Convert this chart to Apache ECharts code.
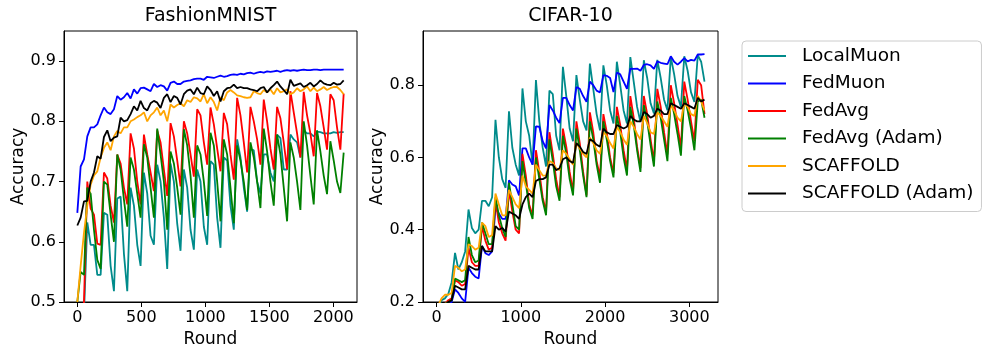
<!DOCTYPE html>
<html>
<head>
<meta charset="utf-8">
<script src="https://cdn.jsdelivr.net/npm/echarts@6.0.0/dist/echarts.min.js"></script>
<style>
html, body { margin: 0; padding: 0; background: #fff; }
#chart { width: 997px; height: 356px; }
</style>
</head>
<body>
<div id="chart"></div>
<script>
var chart = echarts.init(document.getElementById('chart'));

var methodNames = ['LocalMuon', 'FedMuon', 'FedAvg', 'FedAvg (Adam)', 'SCAFFOLD', 'SCAFFOLD (Adam)'];
var lineColors = ['#008b8b', '#0000ff', '#ff0000', '#008000', '#ffa500', '#000000'];

// FashionMNIST (left panel)
var fmnistRounds = [0,26,52,78,104,130,156,182,208,234,260,286,312,338,364,390,416,442,468,494,520,546,572,598,624,650,676,702,728,754,780,806,832,858,884,910,936,962,988,1014,1040,1066,1092,1118,1144,1170,1196,1222,1248,1274,1300,1326,1352,1378,1404,1430,1456,1482,1508,1534,1560,1586,1612,1638,1664,1690,1716,1742,1768,1794,1820,1846,1872,1898,1924,1950,1976,2002,2028,2054,2080];
var fmnistLocalMuon = [0.30,0.40,0.48,0.632,0.595,0.595,0.545,0.545,0.648,0.645, 0.56,0.518,0.672,0.675,0.58,0.518,0.69,0.66,0.595,0.56, 0.715,0.68,0.61,0.595,0.728,0.70,0.64,0.555,0.73,0.70, 0.63,0.585,0.72,0.69,0.62,0.587,0.72,0.70,0.625,0.595, 0.734,0.728,0.64,0.59,0.74,0.735,0.66,0.62,0.77,0.74, 0.69,0.65,0.753,0.752,0.70,0.68,0.745,0.745,0.715,0.70, 0.778,0.772,0.72,0.72,0.778,0.77,0.765,0.74,0.785,0.78, 0.78,0.775,0.783,0.782,0.78,0.78,0.78,0.782,0.781,0.782,0.782];
var fmnistFedMuon = [0.648,0.725,0.737,0.775,0.79,0.79,0.795,0.81,0.823,0.815, 0.812,0.82,0.842,0.836,0.84,0.847,0.838,0.853,0.846,0.855, 0.856,0.853,0.85,0.862,0.857,0.86,0.858,0.851,0.864,0.866, 0.862,0.862,0.866,0.867,0.868,0.87,0.871,0.871,0.869,0.874, 0.873,0.872,0.874,0.876,0.874,0.875,0.877,0.878,0.877,0.879, 0.878,0.880,0.881,0.879,0.881,0.882,0.881,0.883,0.882,0.883, 0.884,0.882,0.884,0.885,0.884,0.885,0.884,0.885,0.886,0.885, 0.885,0.886,0.886,0.885,0.886,0.886,0.886,0.886,0.886,0.886,0.886];
var fmnistFedAvg = [0.30,0.42,0.50,0.70,0.655,0.645,0.597,0.595,0.715,0.705, 0.66,0.632,0.745,0.73,0.69,0.662,0.78,0.755,0.70,0.662, 0.778,0.745,0.715,0.684,0.785,0.765,0.72,0.676,0.797,0.775, 0.735,0.692,0.80,0.78,0.745,0.708,0.82,0.81,0.765,0.728, 0.823,0.795,0.755,0.717,0.814,0.795,0.745,0.703,0.839,0.81, 0.765,0.715,0.824,0.80,0.77,0.728,0.836,0.80,0.755,0.72, 0.824,0.805,0.765,0.72,0.85,0.815,0.78,0.74,0.849,0.81, 0.78,0.742,0.847,0.825,0.79,0.753,0.845,0.835,0.79,0.753,0.846];
var fmnistFedAvgAdam = [0.50,0.55,0.545,0.69,0.68,0.62,0.57,0.555,0.70,0.695, 0.645,0.60,0.745,0.72,0.67,0.625,0.74,0.72,0.68,0.64, 0.762,0.74,0.69,0.64,0.788,0.745,0.70,0.62,0.75,0.73, 0.69,0.645,0.787,0.76,0.71,0.64,0.76,0.745,0.70,0.643, 0.781,0.76,0.70,0.634,0.77,0.745,0.69,0.631,0.76,0.735, 0.70,0.653,0.765,0.74,0.70,0.656,0.788,0.75,0.70,0.66, 0.778,0.745,0.69,0.634,0.765,0.74,0.70,0.653,0.80,0.76, 0.71,0.662,0.785,0.75,0.71,0.679,0.767,0.735,0.70,0.681,0.748];
var fmnistScaffold = [0.50,0.56,0.615,0.66,0.695,0.71,0.717,0.74,0.756,0.765, 0.752,0.775,0.784,0.78,0.79,0.79,0.80,0.803,0.807,0.81, 0.815,0.80,0.81,0.815,0.823,0.81,0.818,0.80,0.828,0.823, 0.827,0.83,0.825,0.835,0.832,0.84,0.838,0.833,0.845,0.83, 0.84,0.832,0.818,0.84,0.835,0.848,0.852,0.848,0.843,0.842, 0.84,0.839,0.84,0.85,0.847,0.845,0.852,0.848,0.853,0.845, 0.855,0.848,0.85,0.853,0.845,0.848,0.855,0.85,0.853,0.858, 0.85,0.856,0.85,0.853,0.857,0.852,0.855,0.857,0.857,0.852,0.845];
var fmnistScaffoldAdam = [0.627,0.64,0.667,0.668,0.70,0.715,0.742,0.738,0.774,0.785, 0.767,0.773,0.775,0.806,0.80,0.802,0.812,0.825,0.818,0.834, 0.822,0.818,0.83,0.834,0.831,0.822,0.839,0.845,0.832,0.842, 0.839,0.828,0.845,0.851,0.853,0.845,0.856,0.847,0.845,0.858, 0.852,0.842,0.85,0.833,0.85,0.855,0.856,0.861,0.855,0.857, 0.855,0.855,0.853,0.852,0.85,0.855,0.857,0.848,0.855,0.86, 0.866,0.858,0.852,0.845,0.869,0.859,0.861,0.863,0.857,0.86, 0.864,0.858,0.862,0.868,0.863,0.861,0.86,0.864,0.861,0.862,0.868];
var fmnistXTicks = [0, 500, 1000, 1500, 2000];
var fmnistYTicks = [0.5, 0.6, 0.7, 0.8, 0.9];

// CIFAR-10 (middle panel)
var cifarRounds = [20,60,100,140,180,220,260,300,340,380,420,460,500,540,580,620,660,700,740,780,820,860,900,940,980,1020,1060,1100,1140,1180,1220,1260,1300,1340,1380,1420,1460,1500,1540,1580,1620,1660,1700,1740,1780,1820,1860,1900,1940,1980,2020,2060,2100,2140,2180,2220,2260,2300,2340,2380,2420,2460,2500,2540,2580,2620,2660,2700,2740,2780,2820,2860,2900,2940,2980,3020,3060,3100,3140,3180];
var cifarLocalMuon = [0.185,0.205,0.21,0.222,0.255,0.336,0.29,0.31,0.34,0.456, 0.405,0.39,0.40,0.48,0.48,0.465,0.49,0.704,0.60,0.54, 0.516,0.728,0.627,0.58,0.55,0.791,0.70,0.66,0.58,0.814, 0.70,0.627,0.575,0.785,0.775,0.66,0.62,0.851,0.77,0.68, 0.645,0.828,0.76,0.70,0.675,0.86,0.79,0.72,0.675,0.855, 0.80,0.73,0.694,0.865,0.80,0.73,0.694,0.878,0.81,0.74, 0.698,0.869,0.82,0.75,0.722,0.87,0.82,0.76,0.731,0.878, 0.83,0.77,0.74,0.88,0.84,0.78,0.754,0.883,0.865,0.81];
var cifarFedMuon = [0.16,0.17,0.18,0.19,0.20,0.235,0.225,0.21,0.20,0.295, 0.28,0.27,0.265,0.355,0.335,0.33,0.34,0.46,0.445,0.43, 0.43,0.537,0.525,0.52,0.495,0.625,0.625,0.60,0.58,0.686, 0.685,0.645,0.625,0.745,0.73,0.71,0.695,0.765,0.765,0.745, 0.73,0.795,0.79,0.77,0.754,0.81,0.80,0.785,0.78,0.828, 0.826,0.82,0.781,0.835,0.83,0.81,0.79,0.846,0.845,0.846, 0.84,0.856,0.858,0.855,0.845,0.866,0.862,0.86,0.858,0.88, 0.865,0.857,0.865,0.875,0.866,0.87,0.868,0.885,0.885,0.886];
var cifarFedAvg = [0.17,0.185,0.195,0.205,0.21,0.26,0.255,0.245,0.25,0.35, 0.31,0.30,0.30,0.41,0.37,0.345,0.35,0.48,0.42,0.39, 0.37,0.51,0.45,0.40,0.39,0.61,0.55,0.47,0.44,0.62, 0.56,0.49,0.45,0.67,0.61,0.54,0.49,0.68,0.63,0.56, 0.505,0.70,0.64,0.56,0.495,0.725,0.67,0.59,0.548,0.72, 0.67,0.60,0.557,0.74,0.69,0.62,0.566,0.77,0.71,0.63, 0.571,0.77,0.72,0.65,0.589,0.79,0.74,0.67,0.608,0.80, 0.75,0.69,0.626,0.81,0.76,0.70,0.645,0.815,0.80,0.72];
var cifarFedAvgAdam = [0.17,0.18,0.195,0.20,0.205,0.265,0.26,0.255,0.26,0.38, 0.33,0.31,0.315,0.42,0.39,0.36,0.36,0.49,0.44,0.405, 0.38,0.53,0.47,0.41,0.40,0.59,0.53,0.46,0.43,0.60, 0.54,0.48,0.44,0.65,0.59,0.52,0.48,0.66,0.61,0.54, 0.495,0.68,0.62,0.55,0.49,0.70,0.65,0.58,0.53,0.70, 0.65,0.59,0.545,0.715,0.67,0.60,0.55,0.74,0.69,0.62, 0.56,0.745,0.70,0.635,0.575,0.755,0.71,0.65,0.59,0.765, 0.72,0.665,0.605,0.77,0.73,0.68,0.62,0.755,0.76,0.71];
var cifarScaffold = [0.19,0.21,0.22,0.22,0.225,0.30,0.295,0.285,0.29,0.36, 0.355,0.345,0.35,0.42,0.41,0.38,0.385,0.50,0.47,0.44, 0.44,0.51,0.49,0.47,0.46,0.55,0.52,0.51,0.50,0.58, 0.565,0.55,0.55,0.59,0.585,0.57,0.565,0.62,0.61,0.595, 0.58,0.64,0.625,0.61,0.60,0.655,0.64,0.62,0.61,0.67, 0.66,0.64,0.625,0.685,0.67,0.65,0.635,0.70,0.685,0.665, 0.65,0.715,0.695,0.67,0.665,0.725,0.715,0.70,0.685,0.745, 0.73,0.71,0.70,0.75,0.74,0.72,0.715,0.77,0.755,0.73];
var cifarScaffoldAdam = [0.17,0.18,0.19,0.20,0.205,0.245,0.24,0.235,0.235,0.30, 0.295,0.29,0.29,0.355,0.34,0.34,0.34,0.41,0.40,0.405, 0.395,0.45,0.445,0.44,0.43,0.47,0.49,0.50,0.49,0.535, 0.54,0.54,0.545,0.58,0.58,0.565,0.57,0.595,0.60,0.59, 0.585,0.64,0.63,0.615,0.61,0.65,0.645,0.635,0.63,0.68, 0.67,0.665,0.665,0.69,0.685,0.68,0.685,0.715,0.705,0.70, 0.70,0.726,0.72,0.71,0.715,0.735,0.73,0.72,0.72,0.75, 0.745,0.74,0.735,0.75,0.745,0.74,0.735,0.765,0.755,0.76];
var cifarXTicks = [0, 1000, 2000, 3000];
var cifarYTicks = [0.2, 0.4, 0.6, 0.8];

var fmnistValues = [fmnistLocalMuon, fmnistFedMuon, fmnistFedAvg, fmnistFedAvgAdam, fmnistScaffold, fmnistScaffoldAdam];
var cifarValues = [cifarLocalMuon, cifarFedMuon, cifarFedAvg, cifarFedAvgAdam, cifarScaffold, cifarScaffoldAdam];

function toPairs(xs, ys) {
    return xs.map(function (x, i) { return [x, ys[i]]; });
}

function xAxisFor(gridIndex, min, max, ticks) {
    return {
        type: 'value', gridIndex: gridIndex, min: min, max: max,
        name: 'Round', nameLocation: 'middle', nameGap: 26,
        nameTextStyle: { fontSize: 17, color: '#000' },
        axisLine: { show: true, onZero: false, lineStyle: { color: '#000', width: 1 } },
        axisTick: { show: true, inside: false, length: 5, lineStyle: { color: '#000', width: 1 }, customValues: ticks },
        axisLabel: {
            customValues: ticks, fontSize: 16, color: '#000', margin: 8,
            formatter: function (v) { return String(v); }
        },
        splitLine: { show: false }
    };
}

function yAxisFor(gridIndex, min, max, ticks) {
    return {
        type: 'value', gridIndex: gridIndex, min: min, max: max,
        name: 'Accuracy', nameLocation: 'middle', nameGap: 37,
        nameTextStyle: { fontSize: 17, color: '#000' },
        axisLine: { show: true, onZero: false, lineStyle: { color: '#000', width: 1 } },
        axisTick: { show: true, inside: false, length: 5, lineStyle: { color: '#000', width: 1 }, customValues: ticks },
        axisLabel: {
            customValues: ticks, fontSize: 16, color: '#000', margin: 8,
            formatter: function (v) { return v.toFixed(1); }
        },
        splitLine: { show: false }
    };
}

var series = [];
fmnistValues.forEach(function (ys, i) {
    series.push({
        name: methodNames[i], type: 'line', xAxisIndex: 0, yAxisIndex: 0,
        data: toPairs(fmnistRounds, ys),
        showSymbol: false, symbol: 'none',
        lineStyle: { color: lineColors[i], width: 1.8 },
        itemStyle: { color: lineColors[i] }
    });
});
cifarValues.forEach(function (ys, i) {
    series.push({
        name: methodNames[i], type: 'line', xAxisIndex: 1, yAxisIndex: 1,
        data: toPairs(cifarRounds, ys),
        showSymbol: false, symbol: 'none',
        lineStyle: { color: lineColors[i], width: 1.8 },
        itemStyle: { color: lineColors[i] }
    });
});

var option = {
    backgroundColor: '#fff',
    animation: false,
    textStyle: { fontFamily: 'DejaVu Sans' },
    title: [
        { text: 'FashionMNIST', left: 210.5, top: 7, textAlign: 'center', padding: 0,
          textStyle: { fontSize: 19, fontWeight: 'normal', color: '#000' } },
        { text: 'CIFAR-10', left: 570.5, top: 7, textAlign: 'center', padding: 0,
          textStyle: { fontSize: 19, fontWeight: 'normal', color: '#000' } }
    ],
    grid: [
        { left: 64, top: 31, width: 293, height: 271, show: true, borderColor: '#000', borderWidth: 1, backgroundColor: 'transparent' },
        { left: 423, top: 31, width: 295, height: 271, show: true, borderColor: '#000', borderWidth: 1, backgroundColor: 'transparent' }
    ],
    xAxis: [
        xAxisFor(0, -104, 2184, fmnistXTicks),
        xAxisFor(1, -160, 3340, cifarXTicks)
    ],
    yAxis: [
        yAxisFor(0, 0.5, 0.95, fmnistYTicks),
        yAxisFor(1, 0.2, 0.95, cifarYTicks)
    ],
    legend: {
        orient: 'vertical', left: 742, top: 41,
        data: methodNames,
        icon: 'rect', itemWidth: 38, itemHeight: 2, itemGap: 7.5,
        padding: [5, 8, 8, 6],
        borderColor: '#cccccc', borderWidth: 1, borderRadius: 4,
        textStyle: { fontSize: 18.5, color: '#000', lineHeight: 20, padding: [0, 0, 0, 11] }
    },
    series: series
};

chart.setOption(option);
</script>
</body>
</html>
